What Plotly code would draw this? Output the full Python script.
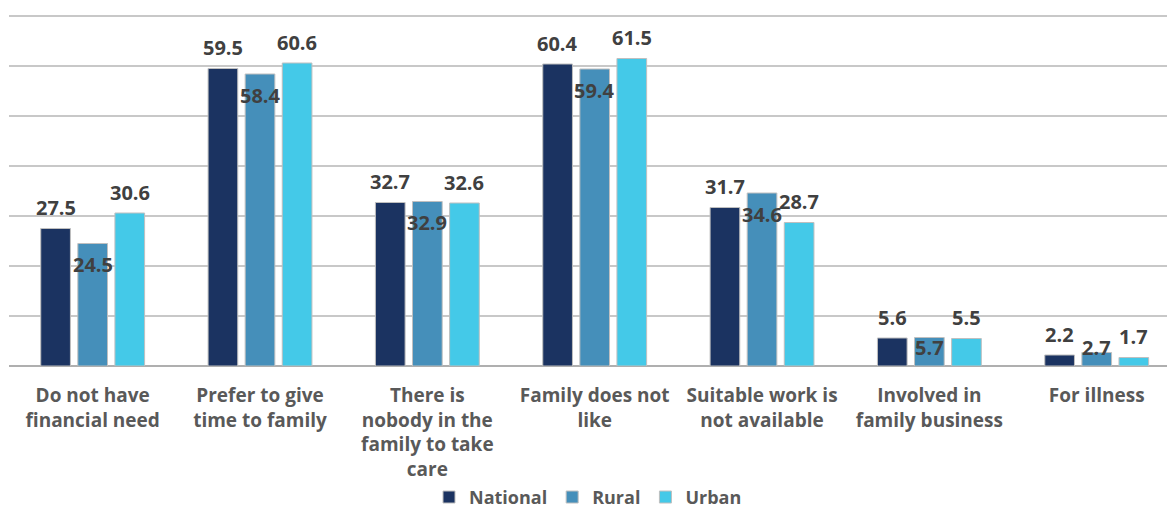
import plotly.graph_objects as go

categories = [
    "Do not have<br>financial need",
    "Prefer to give<br>time to family",
    "There is<br>nobody in the<br>family to take<br>care",
    "Family does not<br>like",
    "Suitable work is<br>not available",
    "Involved in<br>family business",
    "For illness",
]
national = [27.5, 59.5, 32.7, 60.4, 31.7, 5.6, 2.2]
rural = [24.5, 58.4, 32.9, 59.4, 34.6, 5.7, 2.7]
urban = [30.6, 60.6, 32.6, 61.5, 28.7, 5.5, 1.7]

series = [
    ("National", national, "#1B3361"),
    ("Rural", rural, "#458FBA"),
    ("Urban", urban, "#44C9E8"),
]

FONT = "Open Sans"
LABEL_COLOR = "#404040"
AXIS_COLOR = "#595959"

fig = go.Figure()
for name, vals, col in series:
    fig.add_trace(go.Bar(
        name=name, x=categories, y=vals,
        marker=dict(color=col, line=dict(color="#BFBFBF", width=1)),
        hoverinfo="x+y+name",
    ))

slot_px = 37  # horizontal offset between bars in a group
annotations = []
for i, (name, vals, col) in enumerate(series):
    for c, v in zip(categories, vals):
        if name == "Rural":
            yy = max(v - 4.2, 3.8)
            shift = 0
        else:
            yy = v
            shift = 21
        annotations.append(dict(
            x=c, y=yy, xref="x", yref="y", text=f"{v:.1f}",
            showarrow=False, xshift=(i - 1) * slot_px, yshift=shift,
            yanchor="middle", xanchor="center",
            font=dict(family=FONT, size=20, color=LABEL_COLOR, weight="bold"),
        ))

fig.update_layout(
    width=1167, height=508,
    margin=dict(l=9, r=0, t=13, b=142, autoexpand=False),
    paper_bgcolor="white", plot_bgcolor="white",
    barmode="group", bargap=0.335, bargroupgap=0.2,
    showlegend=True,
    legend=dict(
        orientation="h", x=0.5, xanchor="center", y=-0.372, yanchor="middle",
        font=dict(family=FONT, size=18, color=AXIS_COLOR, weight="bold"),
        itemwidth=30, traceorder="normal",
    ),
    annotations=annotations,
    font=dict(family=FONT),
)
fig.update_xaxes(
    range=[-0.5, 6.42], showgrid=False, showline=False, ticks="",
    tickfont=dict(family=FONT, size=19, color=AXIS_COLOR, weight="bold"),
    tickangle=0, automargin=False, ticklabelstandoff=16,
)
fig.update_yaxes(
    range=[0, 70.6], tick0=0, dtick=10, showticklabels=False, showgrid=True,
    gridcolor="#C8C8C8", gridwidth=1.5, zeroline=True, zerolinecolor="#AFAFAF",
    zerolinewidth=2, showline=False, automargin=False,
)

fig.write_html(
    "out.html",
    config={"displayModeBar": False},
    post_script="document.body.style.margin='0px';document.body.style.overflow='hidden';",
)
